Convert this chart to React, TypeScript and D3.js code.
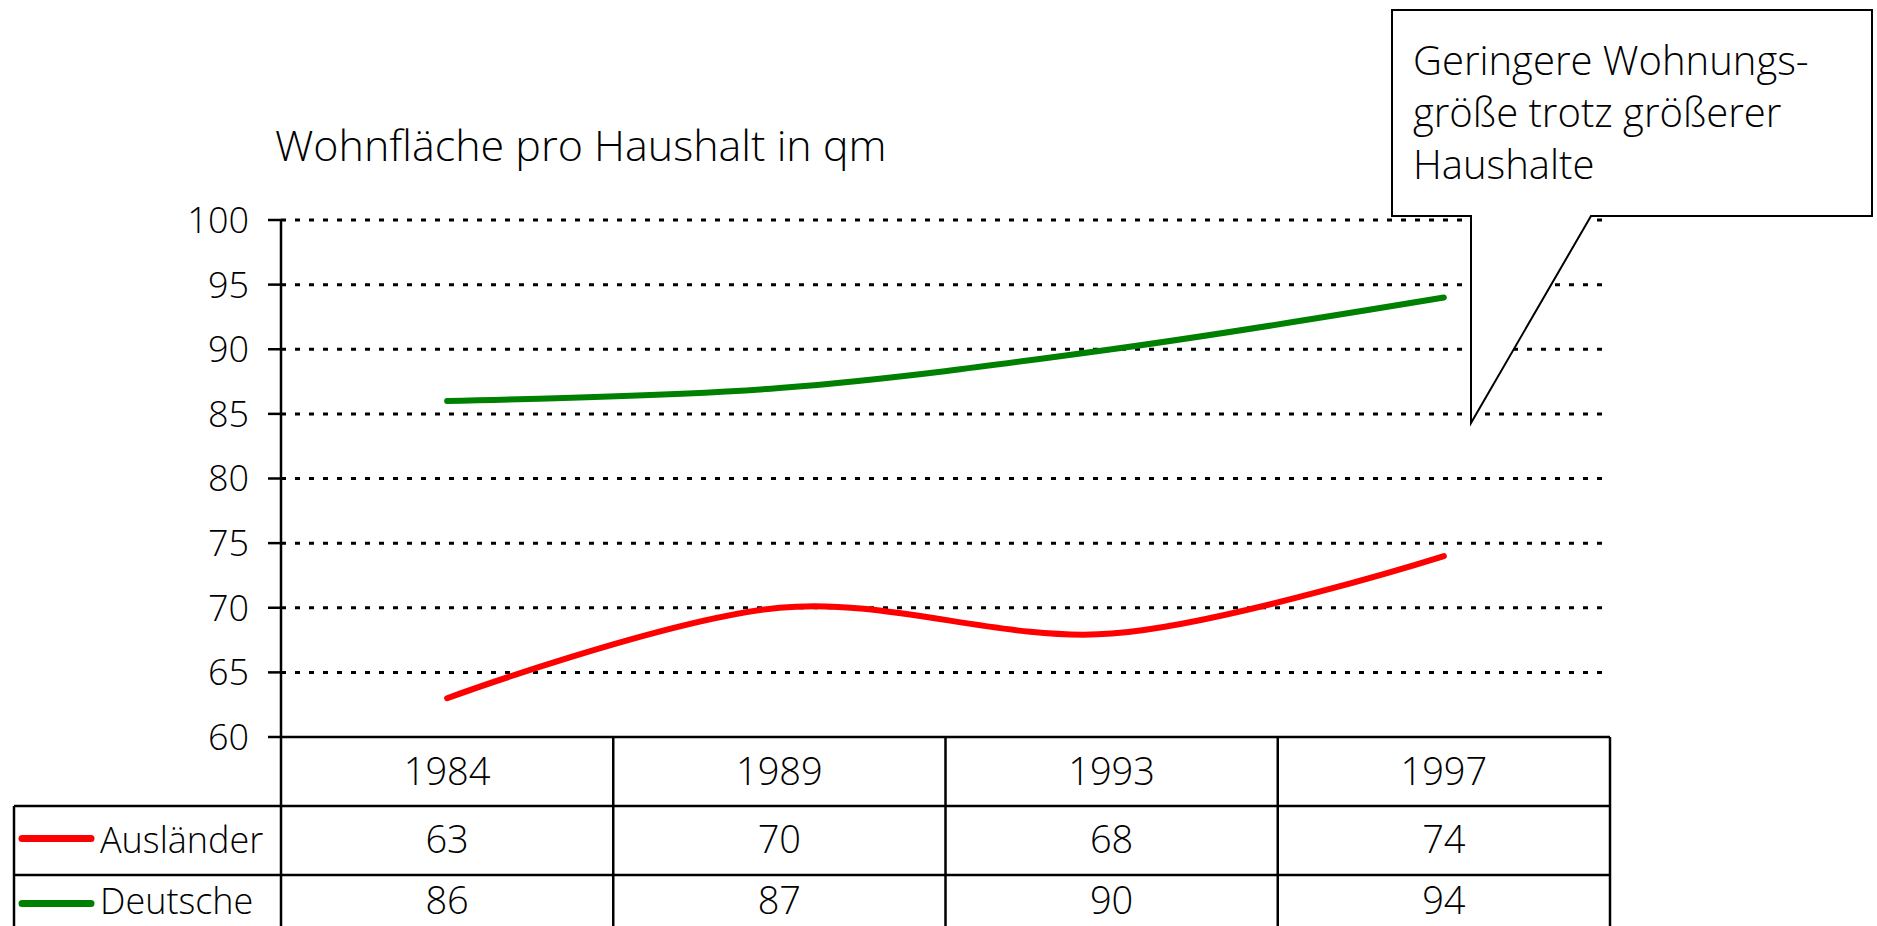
import * as d3 from 'd3';
import React from 'react';

const years = ['1984', '1989', '1993', '1997'];
const auslaender = [63, 70, 68, 74];
const deutsche = [86, 87, 90, 94];
const yTicks = [60, 65, 70, 75, 80, 85, 90, 95, 100];
const seriesNames = ['Ausländer', 'Deutsche'];
const seriesColors = ['#ff0000', '#008000'];
const title = 'Wohnfläche pro Haushalt in qm';
const noteLines = ['Geringere Wohnungs-', 'größe trotz größerer', 'Haushalte'];

const W = 1877;
const H = 926;
const FONT = "'Open Sans', sans-serif";

export default function App() {
    const x = d3.scaleBand<string>().domain(years).range([281, 1610]);
    const y = d3.scaleLinear().domain([60, 100]).range([737, 220]);
    const cx = (yr: string) => (x(yr) as number) + x.bandwidth() / 2;

    const line = d3.line<number>()
        .x((d, i) => cx(years[i]))
        .y(d => y(d))
        .curve(d3.curveCatmullRom.alpha(0.5));

    const series = [auslaender, deutsche];
    const rowH = 69;
    const tableTop = y(60);
    const legendLeft = 14;
    const right = x.range()[1];

    return (
        <svg width={W} height={H} style={{ position: 'absolute', left: 0, top: 0, display: 'block' }}
            fontFamily={FONT} fontWeight={300}>
            <rect width={W} height={H} fill="#fff" />

            <text x={275} y={161} fontSize={43}>{title}</text>

            {/* grid */}
            {yTicks.filter(t => t > 60).map(t => (
                <line key={'g' + t} x1={281} x2={right} y1={y(t)} y2={y(t)}
                    stroke="#000" strokeWidth={3} strokeDasharray="5 9" />
            ))}
            {/* axis + ticks */}
            <line x1={281} x2={281} y1={y(100)} y2={tableTop} stroke="#000" strokeWidth={2.5} />
            {yTicks.map(t => (
                <g key={'t' + t}>
                    <line x1={268} x2={281} y1={y(t)} y2={y(t)} stroke="#000" strokeWidth={2.5} />
                    <text x={249} y={y(t)} dy="0.36em" textAnchor="end" fontSize={36}>{t}</text>
                </g>
            ))}

            {/* series */}
            {series.map((s, i) => (
                <path key={'s' + i} d={line(s) as string} fill="none" stroke={seriesColors[i]}
                    strokeWidth={6} strokeLinecap="round" strokeLinejoin="round" />
            ))}

            {/* data table */}
            <g stroke="#000" strokeWidth={2.5} fill="none">
                <line x1={281} x2={right} y1={tableTop} y2={tableTop} />
                <line x1={legendLeft} x2={right} y1={tableTop + rowH} y2={tableTop + rowH} />
                <line x1={legendLeft} x2={right} y1={tableTop + rowH * 2} y2={tableTop + rowH * 2} />
                <line x1={legendLeft} x2={right} y1={tableTop + rowH * 3} y2={tableTop + rowH * 3} />
                <line x1={legendLeft} x2={legendLeft} y1={tableTop + rowH} y2={tableTop + rowH * 3} />
                {years.map(yr => (
                    <line key={'c' + yr} x1={x(yr)} x2={x(yr)} y1={tableTop} y2={tableTop + rowH * 3} />
                ))}
                <line x1={right} x2={right} y1={tableTop} y2={tableTop + rowH * 3} />
            </g>
            {years.map(yr => (
                <text key={'y' + yr} x={cx(yr)} y={tableTop + rowH / 2} dy="0.36em"
                    textAnchor="middle" fontSize={38}>{yr}</text>
            ))}
            {series.map((s, i) => {
                // last row is clipped by the page edge, keep its text a bit higher
                const ry = tableTop + rowH * (i + 1) + rowH / 2 - i * 8;
                return (
                    <g key={'r' + i}>
                        <line x1={22} x2={91} y1={ry - 2 + i * 4} y2={ry - 2 + i * 4} stroke={seriesColors[i]}
                            strokeWidth={7} strokeLinecap="round" />
                        <text x={100} y={ry} dy="0.34em" fontSize={36}>{seriesNames[i]}</text>
                        {s.map((v, j) => (
                            <text key={j} x={cx(years[j])} y={ry} dy="0.34em" textAnchor="middle"
                                fontSize={38}>{v}</text>
                        ))}
                    </g>
                );
            })}

            {/* callout */}
            <path d="M1392,10 H1872 V216 H1591 L1471,423 V216 H1392 Z" fill="#fff" stroke="#000" strokeWidth={2} />
            {noteLines.map((l, i) => (
                <text key={'n' + i} x={1413} y={75 + i * 52} fontSize={40}>{l}</text>
            ))}
        </svg>
    );
}
